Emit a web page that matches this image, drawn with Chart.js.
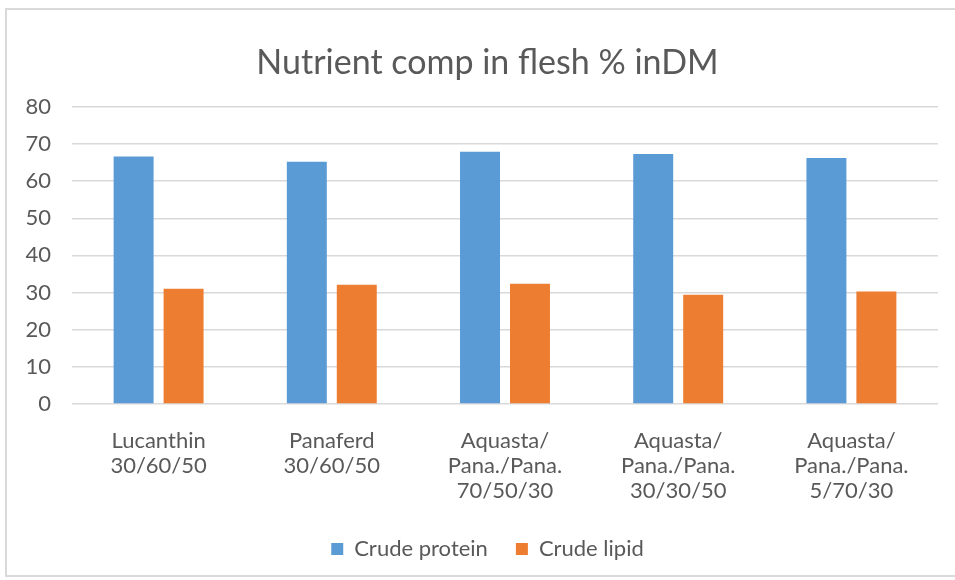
<!DOCTYPE html>
<html>
<head>
<meta charset="utf-8">
<script src="https://cdn.jsdelivr.net/npm/chart.js@4.4.1/dist/chart.umd.min.js"></script>
<style>
  html, body { margin: 0; padding: 0; background: #fff; }
  #wrap { position: relative; width: 955px; height: 580px; }
  #frame {
    position: absolute; left: 5px; top: 8px; width: 960px; height: 569px;
    border: 2px solid #d9d9d9; pointer-events: none; box-sizing: border-box;
  }
</style>
</head>
<body>
<div id="wrap">
  <canvas id="chart" width="955" height="580"></canvas>
  <div id="frame"></div>
</div>
<script>
// Diet labels (multi-line, as in the original)
const categories = [
  ["Lucanthin", "30/60/50"],
  ["Panaferd", "30/60/50"],
  ["Aquasta/", "Pana./Pana.", "70/50/30"],
  ["Aquasta/", "Pana./Pana.", "30/30/50"],
  ["Aquasta/", "Pana./Pana.", "5/70/30"],
];
const crudeProtein = [66.6, 65.2, 67.9, 67.3, 66.2];
const crudeLipid = [31.0, 32.1, 32.4, 29.4, 30.3];
const yTicks = [0, 10, 20, 30, 40, 50, 60, 70, 80];

const FONT = "Lato, 'Open Sans', sans-serif";
const TEXT = "#595959";

// y labels sit left of the padded area; widen their clip box after layout
const unclipYLabels = {
  id: "unclipYLabels",
  afterLayout(chart) {
    chart.scales.y.left = 0;
  },
};

new Chart(document.getElementById("chart"), {
  type: "bar",
  data: {
    labels: categories,
    datasets: [
      { label: "Crude protein", data: crudeProtein, backgroundColor: "#5b9bd5",
        barPercentage: 0.8, categoryPercentage: 0.577 },
      { label: "Crude lipid", data: crudeLipid, backgroundColor: "#ed7d31",
        barPercentage: 0.8, categoryPercentage: 0.577 },
    ],
  },
  plugins: [unclipYLabels],
  options: {
    responsive: false,
    animation: false,
    // wide left padding keeps title and legend centred like the original
    layout: { padding: { left: 37, right: 17, top: 0, bottom: 10 } },
    plugins: {
      title: {
        display: true,
        text: "Nutrient comp in flesh % inDM",
        color: TEXT,
        font: { family: FONT, size: 34, weight: "normal" },
        padding: { top: 43, bottom: 23 },
      },
      legend: {
        position: "bottom",
        labels: {
          color: TEXT,
          font: { family: FONT, size: 22 },
          boxWidth: 12,
          boxHeight: 12,
          padding: 28,
        },
      },
      tooltip: { enabled: false },
    },
    scales: {
      x: {
        grid: { display: false },
        border: { display: false },
        ticks: {
          color: TEXT,
          font: { family: FONT, size: 22, lineHeight: 1.14 },
          padding: 16,
          maxRotation: 0,
          autoSkip: false,
        },
        afterFit: (scale) => { scale.height = 106; },
      },
      y: {
        min: 0,
        max: 80,
        afterBuildTicks: (scale) => { scale.ticks = yTicks.map((v) => ({ value: v })); },
        grid: { color: "#d9d9d9", lineWidth: 1.5, drawTicks: false },
        border: { display: false },
        ticks: {
          color: TEXT,
          font: { family: FONT, size: 22 },
          padding: 21,
        },
        afterFit: (scale) => { scale.width = 35; },
      },
    },
  },
});
</script>
</body>
</html>
